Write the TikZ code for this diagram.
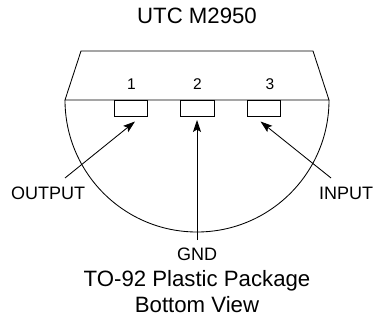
\documentclass[tikz,border=0pt]{standalone}
\usepackage{fontspec}
\setmainfont{Liberation Sans}
\usetikzlibrary{arrows.meta}
\tikzset{
  pkg/.style={draw=black,line width=0.85pt},
  pinbox/.style={draw=black,line width=0.85pt,minimum width=33.5pt,minimum height=16pt,inner sep=0pt,outer sep=0pt,anchor=north west},
  lbl/.style={inner sep=0pt,font=\fontsize{18}{20}\selectfont},
  num/.style={inner sep=0pt,font=\fontsize{15.5}{18}\selectfont},
  captiontext/.style={inner sep=0pt,font=\fontsize{22.2}{26}\selectfont},
  lead/.style={draw=black,line width=0.85pt,-{Stealth[length=12pt,width=8pt,inset=2.5pt]}}
}
\begin{document}
\begin{tikzpicture}[x=1pt,y=-1pt]
\useasboundingbox (0,0) rectangle (374,320);
\coordinate (bl) at (65,100);
\coordinate (br) at (329,100);
\coordinate (tl) at (81,51);
\coordinate (tr) at (313,51);
\draw[pkg] (bl) -- (tl) -- (tr) -- (br) -- cycle;
\draw[pkg] (bl) arc[start angle=180,end angle=360,radius=132pt];
\node[pinbox] (p1) at (114.3,100) {};
\node[pinbox] (p2) at (180.6,100) {};
\node[pinbox] (p3) at (247.3,100) {};
\node[num] (n1) at (131.5,84) {1};
\node[num] (n2) at (197.5,84) {2};
\node[num] (n3) at (270,84) {3};
\node[lbl] (out) at (48,193) {OUTPUT};
\node[lbl] (inp) at (346,193) {INPUT};
\node[lbl] (gnd) at (197,254) {GND};
\node[captiontext] (title) at (197,15.5) {UTC M2950};
\node[captiontext] (c1) at (197,281) {TO-92 Plastic Package};
\node[captiontext] (c2) at (197,305) {Bottom View};
\coordinate (a1) at (65,178);
\coordinate (b1) at (135,121.5);
\coordinate (a2) at (197,240);
\coordinate (b2) at (197,120);
\coordinate (a3) at (331,178);
\coordinate (b3) at (260.5,121.5);
\draw[lead] (a1) -- (b1);
\draw[lead] (a2) -- (b2);
\draw[lead] (a3) -- (b3);
\end{tikzpicture}
\end{document}
